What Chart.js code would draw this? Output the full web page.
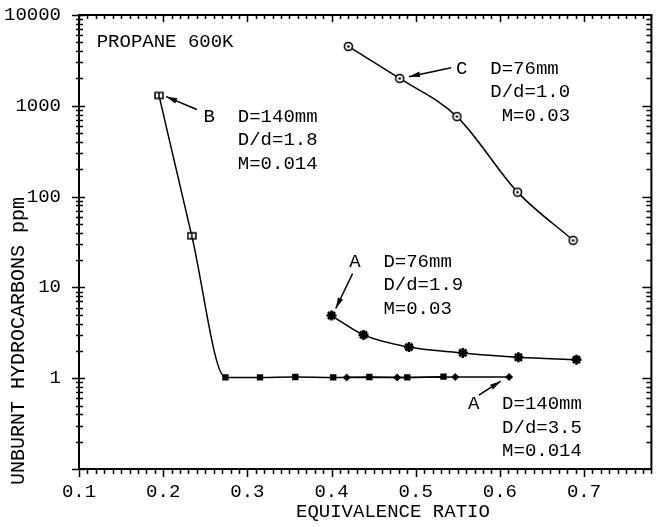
<!DOCTYPE html>
<html>
<head>
<meta charset="utf-8">
<script src="https://cdn.jsdelivr.net/npm/chart.js@4.4.0/dist/chart.umd.min.js"></script>
<style>
  html, body { margin: 0; padding: 0; background: #fff; }
  canvas { display: block; }
</style>
</head>
<body>
<canvas id="hcChart" width="659" height="527"></canvas>
<script>
// Unburnt hydrocarbons vs equivalence ratio (propane, 600K)
const xTicks = [0.1, 0.2, 0.3, 0.4, 0.5, 0.6, 0.7];
const yTicks = [0.1, 1, 10, 100, 1000, 10000];

// B: D=140mm, D/d=1.8, M=0.014
const bPhi = [0.195, 0.234, 0.274, 0.315, 0.357, 0.402, 0.445, 0.490, 0.533];
const bHc  = [1300, 37, 1.02, 1.02, 1.03, 1.02, 1.03, 1.02, 1.04];
// A: D=140mm, D/d=3.5, M=0.014
const a140Phi = [0.418, 0.478, 0.547, 0.611];
const a140Hc  = [1.02, 1.02, 1.03, 1.03];
// A: D=76mm, D/d=1.9, M=0.03
const a76Phi = [0.400, 0.438, 0.492, 0.556, 0.622, 0.691];
const a76Hc  = [4.9, 3.0, 2.2, 1.9, 1.7, 1.6];
// C: D=76mm, D/d=1.0, M=0.03
const cPhi = [0.420, 0.481, 0.549, 0.621, 0.687];
const cHc  = [4500, 2000, 760, 112, 33];

const FONT = '"Liberation Mono", "DejaVu Sans Mono", monospace';

// text blocks: left edge + first line centre, in data units
const notes = [
  { x: 0.121, y: 5060, lines: ['PROPANE 600K'] },
  { x: 0.248, y: 762,  lines: ['B  D=140mm', '   D/d=1.8', '   M=0.014'] },
  { x: 0.548, y: 2560, lines: ['C  D=76mm', '   D/d=1.0', '    M=0.03'] },
  { x: 0.421, y: 19.1, lines: ['A  D=76mm', '   D/d=1.9', '   M=0.03'] },
  { x: 0.562, y: 0.519, lines: ['A  D=140mm', '   D/d=3.5', '   M=0.014'] }
];
// pointer arrows, tail -> tip
const arrows = [
  [0.240, 910, 0.2035, 1262],
  [0.542, 2630, 0.492, 2094],
  [0.425, 14.2, 0.405, 5.85],
  [0.575, 0.652, 0.601, 0.927]
];

function makeMarker(size, draw) {
  const c = document.createElement('canvas');
  c.width = size; c.height = size;
  draw(c.getContext('2d'), size);
  return c;
}
const ringDot = makeMarker(11, (g, s) => {
  g.lineWidth = 1.6; g.strokeStyle = '#000'; g.fillStyle = '#fff';
  g.beginPath(); g.arc(s / 2, s / 2, 4, 0, Math.PI * 2); g.fill(); g.stroke();
  g.fillStyle = '#000';
  g.beginPath(); g.arc(s / 2, s / 2, 1.3, 0, Math.PI * 2); g.fill();
});
const openSquare = makeMarker(10, (g, s) => {
  g.lineWidth = 1.5; g.strokeStyle = '#000'; g.fillStyle = '#fff';
  g.fillRect(1, 2, s - 2, s - 4); g.strokeRect(1, 2, s - 2, s - 4);
  g.beginPath(); g.moveTo(s / 2, 2); g.lineTo(s / 2, s - 2); g.stroke();
});

const toXY = (xs, ys) => xs.map((x, i) => ({ x: x, y: ys[i] }));

const decorPlugin = {
  id: 'decor',
  afterDraw(chart) {
    const { ctx, chartArea: a, scales: { x, y } } = chart;
    ctx.save();
    ctx.strokeStyle = '#000';
    ctx.fillStyle = '#000';

    // frame
    ctx.lineWidth = 2;
    ctx.strokeRect(a.left, a.top, a.right - a.left, a.bottom - a.top);

    // y ticks (log, with minor)
    ctx.lineWidth = 1.5;
    for (let d = 0.1; d < 10000; d *= 10) {
      for (let m = 1; m <= 9; m++) {
        const py = Math.round(y.getPixelForValue(d * m)) + 0.5;
        const major = m === 1;
        ctx.beginPath();
        ctx.moveTo(a.left - (major ? 7 : 3), py); ctx.lineTo(a.left + (major ? 6 : 4), py);
        ctx.moveTo(a.right, py); ctx.lineTo(a.right - (major ? 9 : 5), py);
        ctx.stroke();
      }
    }
    const topPy = Math.round(y.getPixelForValue(10000)) + 0.5;
    ctx.beginPath();
    ctx.moveTo(a.left - 7, topPy); ctx.lineTo(a.left + 6, topPy);
    ctx.stroke();

    // x ticks
    for (let i = 0; i <= 68; i++) {
      const v = 0.1 + i * 0.01;
      const px = Math.round(x.getPixelForValue(v)) + 0.5;
      const major = i % 10 === 0;
      ctx.beginPath();
      ctx.moveTo(px, a.bottom); ctx.lineTo(px, a.bottom + (major ? 8 : 5));
      ctx.moveTo(px, a.top); ctx.lineTo(px, a.top + (major ? 7 : 4));
      ctx.stroke();
    }

    // axis titles
    ctx.font = '19px ' + FONT;
    ctx.textBaseline = 'middle';
    ctx.textAlign = 'left';
    ctx.fillText('EQUIVALENCE RATIO', 296, 512);
    ctx.save();
    ctx.translate(19, 485);
    ctx.rotate(-Math.PI / 2);
    ctx.font = '20px ' + FONT;
    ctx.fillText('UNBURNT HYDROCARBONS ppm', 0, 0);
    ctx.restore();

    // text blocks
    ctx.font = '19px ' + FONT;
    notes.forEach(n => {
      const px = x.getPixelForValue(n.x);
      const py = y.getPixelForValue(n.y);
      n.lines.forEach((t, i) => ctx.fillText(t, px, py + i * 23.5));
    });

    // arrows
    ctx.lineWidth = 1.5;
    arrows.forEach(([x0, y0, x1, y1]) => {
      const ax = x.getPixelForValue(x0), ay = y.getPixelForValue(y0);
      const bx = x.getPixelForValue(x1), by = y.getPixelForValue(y1);
      const ang = Math.atan2(by - ay, bx - ax);
      ctx.beginPath(); ctx.moveTo(ax, ay); ctx.lineTo(bx, by); ctx.stroke();
      ctx.save();
      ctx.translate(bx, by); ctx.rotate(ang);
      ctx.beginPath();
      ctx.moveTo(0, 0); ctx.lineTo(-11, -2.8); ctx.lineTo(-11, 2.8); ctx.closePath();
      ctx.fill();
      ctx.restore();
    });
    ctx.restore();
  }
};

new Chart(document.getElementById('hcChart'), {
  type: 'line',
  data: {
    datasets: [
      {
        data: toXY(bPhi, bHc),
        borderColor: '#000', borderWidth: 1.5,
        cubicInterpolationMode: 'monotone',
        pointStyle: bPhi.map((_, i) => i < 2 ? openSquare : 'rect'),
        pointRadius: 4.5, pointBorderWidth: 0,
        pointBackgroundColor: '#000'
      },
      {
        data: toXY(a140Phi, a140Hc),
        borderColor: '#000', borderWidth: 1.5,
        pointStyle: 'rectRot', pointRadius: 4, pointBorderWidth: 0,
        pointBackgroundColor: '#000'
      },
      {
        data: toXY(a76Phi, a76Hc),
        borderColor: '#000', borderWidth: 1.5,
        cubicInterpolationMode: 'monotone',
        pointStyle: 'star', pointRadius: 5, pointBorderWidth: 2.6,
        pointBorderColor: '#000', pointBackgroundColor: '#000'
      },
      {
        data: toXY(cPhi, cHc),
        borderColor: '#000', borderWidth: 1.5,
        cubicInterpolationMode: 'monotone',
        pointStyle: ringDot, pointRadius: 5
      }
    ]
  },
  options: {
    responsive: false,
    animation: false,
    layout: { padding: { top: 15, right: 1, left: 0, bottom: 0 } },
    plugins: { legend: { display: false }, tooltip: { enabled: false } },
    scales: {
      x: {
        type: 'linear', min: 0.1, max: 0.78,
        afterBuildTicks: s => { s.ticks = xTicks.map(v => ({ value: v })); },
        afterFit: s => { s.height = 58; s.paddingLeft = 0; s.paddingRight = 0; },
        grid: { display: false, drawTicks: false },
        border: { display: true, color: '#000', width: 2 },
        ticks: {
          color: '#000', padding: 12, maxRotation: 0,
          font: { family: FONT, size: 19 },
          callback: v => v.toFixed(1)
        }
      },
      y: {
        type: 'logarithmic', min: 0.1, max: 10000,
        afterBuildTicks: s => { s.ticks = yTicks.map(v => ({ value: v })); },
        afterFit: s => { s.width = 79; s.paddingTop = 0; s.paddingBottom = 0; },
        grid: { display: false, drawTicks: false },
        border: { display: true, color: '#000', width: 2 },
        ticks: {
          color: '#000', padding: 18,
          font: { family: FONT, size: 19 },
          callback: v => v >= 1 ? String(v) : ''
        }
      }
    }
  },
  plugins: [decorPlugin]
});
</script>
</body>
</html>
